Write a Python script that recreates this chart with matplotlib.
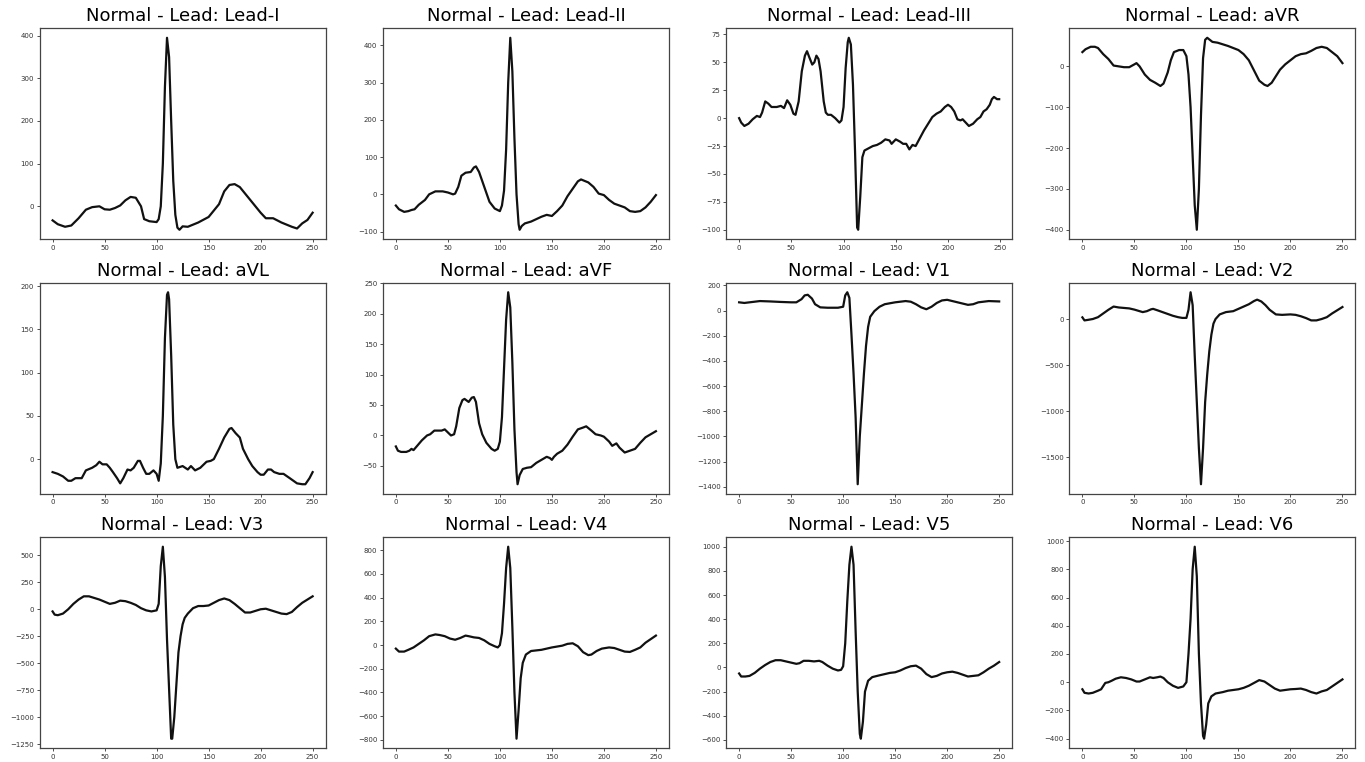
import matplotlib
matplotlib.use("Agg")
import matplotlib.pyplot as plt

# ECG samples, (sample index, amplitude)
LEAD_I = [(0, -33), (5, -42), (12, -48), (18, -45), (25, -28), (32, -8), (38, -2), (45, 0), (50, -7), (55, -8),
          (60, -4), (65, 2), (70, 14), (75, 22), (80, 20), (85, 0), (88, -30), (93, -35), (100, -37), (102, -30),
          (104, 0), (106, 100), (108, 280), (110, 395), (112, 350), (114, 200), (116, 60), (118, -20), (120, -50),
          (122, -55), (125, -47), (130, -48), (140, -38), (150, -25), (160, 5), (165, 35), (170, 50), (175, 52),
          (180, 45), (190, 15), (200, -15), (205, -28), (212, -28), (220, -38), (230, -48), (235, -52), (240, -40),
          (245, -32), (250, -15)]
LEAD_II = [(0, -30), (3, -40), (8, -47), (12, -45), (15, -42), (18, -40), (22, -28), (28, -15), (32, 0), (38, 8),
           (45, 8), (50, 5), (55, 0), (57, 2), (60, 20), (63, 50), (67, 58), (72, 60), (75, 72), (77, 75), (80, 60),
           (85, 20), (90, -20), (95, -38), (100, -45), (102, -30), (104, 10), (106, 120), (108, 300), (110, 420),
           (112, 330), (114, 150), (116, 0), (118, -80), (119, -95), (121, -85), (124, -78), (130, -73),
           (140, -60), (145, -55), (150, -58), (155, -45), (160, -30), (165, -5), (170, 15), (175, 35), (178, 40),
           (185, 32), (190, 20), (195, 2), (200, -2), (205, -15), (210, -25), (215, -30), (220, -35), (225, -45),
           (230, -47), (235, -45), (240, -35), (245, -20), (250, -2)]
LEAD_III = [(0, 0), (2, -4), (5, -7), (9, -5), (13, -1), (17, 2), (20, 1), (22, 5), (25, 15), (28, 13), (31, 10),
            (36, 10), (40, 11), (43, 9), (46, 16), (49, 12), (52, 4), (54, 3), (57, 15), (60, 42), (63, 56), (65, 60),
            (67, 55), (70, 48), (72, 50), (74, 56), (76, 53), (78, 42), (81, 15), (83, 5), (85, 3), (88, 3), (92, 0),
            (96, -4), (98, -2), (100, 10), (102, 45), (104, 68), (105, 72), (107, 66), (109, 30), (111, -30),
            (113, -98), (114, -100), (116, -70), (118, -35), (120, -29), (124, -27), (128, -25), (132, -24),
            (136, -22), (140, -19), (144, -20), (146, -23), (150, -19), (154, -21), (157, -23), (160, -23),
            (163, -28), (166, -24), (169, -25), (173, -18), (177, -11), (181, -5), (185, 1), (189, 4), (193, 6),
            (197, 10), (200, 12), (203, 10), (206, 6), (209, -1), (212, -2), (214, -1), (217, -4), (220, -7),
            (224, -5), (228, -1), (231, 1), (234, 6), (237, 8), (240, 12), (242, 17), (244, 19), (247, 17), (249, 17)]
AVR = [(0, 35), (3, 42), (8, 48), (12, 48), (15, 45), (20, 30), (25, 18), (30, 2), (35, 0), (40, -2), (45, -2),
       (50, 5), (52, 8), (55, 0), (60, -20), (65, -33), (70, -40), (75, -48), (78, -42), (82, -15), (85, 15),
       (88, 35), (93, 40), (97, 40), (100, 25), (102, -20), (104, -100), (106, -220), (108, -340), (110, -400),
       (112, -300), (114, -120), (116, 20), (118, 65), (120, 70), (125, 60), (130, 58), (140, 50), (145, 45),
       (150, 40), (155, 30), (160, 15), (165, -10), (170, -35), (175, -45), (178, -48), (182, -40), (185, -28),
       (190, -8), (195, 5), (200, 15), (205, 25), (210, 30), (215, 32), (220, 38), (225, 45), (230, 48), (235, 45),
       (240, 35), (245, 25), (250, 8)]
AVL = [(0, -15), (5, -17), (10, -20), (15, -25), (18, -25), (22, -22), (25, -22), (28, -22), (32, -13), (38, -10),
       (42, -7), (45, -3), (48, -6), (52, -6), (55, -10), (58, -15), (62, -22), (65, -28), (68, -22), (72, -12),
       (75, -13), (78, -10), (82, -2), (84, -2), (87, -10), (90, -17), (93, -17), (97, -13), (100, -17), (102, -25),
       (104, -5), (106, 50), (108, 140), (110, 190), (111, 193), (112, 185), (114, 120), (116, 40), (118, 0),
       (120, -10), (125, -8), (130, -12), (133, -8), (137, -13), (142, -10), (148, -3), (152, -2), (155, 0),
       (160, 12), (165, 25), (170, 35), (172, 36), (176, 30), (180, 25), (183, 12), (188, 0), (192, -8), (197, -15),
       (200, -18), (203, -18), (207, -12), (210, -12), (213, -15), (218, -17), (222, -17), (228, -22), (235, -28),
       (240, -29), (243, -29), (247, -22), (250, -15)]
AVF = [(0, -18), (2, -25), (5, -27), (10, -27), (13, -25), (15, -22), (17, -24), (20, -18), (25, -8), (30, 0),
       (33, 2), (37, 8), (40, 8), (44, 8), (47, 10), (50, 5), (53, 0), (56, 2), (58, 15), (61, 45), (64, 58),
       (66, 60), (70, 55), (73, 62), (75, 63), (77, 55), (80, 20), (83, 2), (87, -12), (92, -22), (95, -25),
       (98, -22), (100, -10), (102, 30), (104, 110), (106, 190), (108, 235), (110, 210), (112, 120), (114, 10),
       (116, -60), (117, -80), (119, -65), (122, -55), (126, -53), (130, -52), (135, -45), (140, -40), (145, -35),
       (148, -37), (150, -40), (152, -35), (155, -30), (160, -25), (165, -15), (170, -2), (175, 10), (180, 13),
       (183, 15), (188, 8), (192, 2), (197, 0), (200, -2), (205, -10), (208, -17), (212, -13), (215, -20),
       (220, -28), (225, -25), (230, -22), (235, -12), (240, -3), (245, 2), (250, 7)]
V1 = [(0, 65), (5, 60), (10, 65), (20, 75), (30, 72), (40, 68), (50, 65), (55, 65), (60, 90), (63, 120), (66, 125),
      (70, 95), (73, 50), (78, 25), (85, 22), (95, 22), (100, 30), (102, 120), (104, 145), (106, 100), (108, -190),
      (110, -500), (112, -850), (114, -1380), (116, -1000), (118, -750), (120, -500), (122, -280), (124, -130),
      (126, -50), (130, -5), (135, 30), (140, 50), (150, 65), (160, 75), (165, 70), (170, 50), (175, 25), (180, 10),
      (185, 30), (190, 60), (195, 80), (200, 85), (205, 75), (210, 65), (215, 55), (220, 45), (225, 50), (230, 65),
      (240, 75), (250, 72)]
V2 = [(0, 18), (2, -15), (5, -10), (10, 0), (15, 20), (20, 60), (25, 100), (30, 135), (35, 125), (40, 120),
      (45, 115), (50, 102), (55, 85), (58, 75), (62, 85), (66, 105), (68, 110), (72, 95), (77, 75), (82, 55),
      (87, 35), (92, 20), (96, 12), (100, 12), (102, 100), (104, 290), (106, 150), (108, -400), (110, -900),
      (112, -1400), (114, -1790), (116, -1400), (118, -900), (120, -600), (122, -350), (124, -170), (126, -50),
      (128, 0), (132, 50), (138, 75), (145, 85), (150, 110), (155, 135), (160, 160), (165, 195), (168, 210),
      (172, 190), (176, 150), (180, 100), (186, 50), (192, 45), (200, 50), (205, 45), (210, 30), (215, 10),
      (220, -15), (225, -15), (230, 0), (235, 20), (240, 60), (245, 95), (250, 130)]
V3 = [(0, -20), (2, -50), (5, -55), (10, -40), (15, 0), (20, 50), (25, 90), (30, 120), (35, 120), (40, 105),
      (45, 90), (50, 70), (55, 50), (60, 60), (65, 80), (70, 75), (75, 60), (80, 40), (85, 10), (90, -10), (95, -20),
      (100, -10), (102, 50), (104, 400), (106, 580), (108, 300), (110, -280), (112, -740), (114, -1200),
      (115, -1200), (117, -1000), (119, -700), (121, -400), (123, -250), (125, -140), (127, -80), (130, -40),
      (135, 10), (140, 30), (145, 30), (150, 35), (155, 60), (160, 85), (165, 100), (170, 85), (175, 50), (180, 10),
      (185, -30), (190, -30), (195, -15), (200, 0), (205, 5), (210, -10), (215, -25), (220, -40), (225, -45),
      (230, -25), (235, 20), (240, 60), (245, 90), (250, 120)]
V4 = [(0, -30), (3, -55), (8, -55), (12, -40), (17, -20), (22, 10), (27, 40), (32, 75), (38, 90), (42, 85), (47, 75),
      (52, 55), (57, 45), (62, 60), (67, 80), (70, 75), (75, 65), (80, 60), (85, 40), (90, 10), (95, -10), (98, -20),
      (100, 0), (102, 100), (104, 350), (106, 650), (108, 830), (110, 650), (112, 150), (114, -400), (116, -790),
      (118, -550), (120, -280), (122, -150), (125, -80), (130, -50), (140, -40), (150, -20), (160, -5), (165, 10),
      (170, 15), (175, -10), (180, -60), (185, -85), (188, -80), (193, -50), (198, -30), (205, -20), (210, -25),
      (215, -40), (220, -55), (225, -58), (230, -40), (235, -20), (240, 20), (245, 50), (250, 80)]
V5 = [(0, -50), (2, -75), (6, -75), (10, -70), (15, -45), (20, -10), (25, 20), (30, 45), (35, 60), (40, 60), (45, 50),
      (50, 40), (55, 30), (58, 35), (62, 55), (67, 55), (72, 50), (77, 55), (80, 45), (85, 15), (90, -10), (95, -25),
      (98, -20), (100, 10), (102, 200), (104, 550), (106, 850), (108, 1000), (110, 850), (112, 300), (114, -200),
      (116, -550), (117, -590), (119, -450), (121, -200), (124, -110), (128, -80), (135, -65), (140, -55),
      (145, -45), (150, -40), (155, -25), (160, -5), (165, 10), (170, 15), (175, -10), (180, -55), (185, -80),
      (190, -70), (195, -50), (200, -40), (205, -35), (210, -45), (215, -60), (220, -75), (225, -70), (230, -65),
      (235, -40), (240, -10), (245, 15), (250, 45)]
V6 = [(0, -50), (2, -75), (6, -80), (10, -75), (15, -60), (18, -50), (22, -5), (25, 0), (28, 10), (32, 25), (37, 35),
      (42, 30), (47, 20), (52, 5), (55, 5), (60, 20), (65, 35), (68, 30), (72, 35), (75, 40), (78, 30), (82, 0),
      (87, -25), (92, -40), (97, -30), (100, 0), (102, 200), (104, 450), (106, 800), (108, 960), (110, 750),
      (112, 200), (114, -150), (116, -380), (117, -400), (119, -300), (121, -150), (124, -100), (128, -80),
      (135, -70), (140, -60), (145, -55), (150, -50), (155, -40), (160, -25), (165, -5), (170, 15), (175, 5),
      (180, -20), (185, -45), (190, -60), (195, -55), (200, -50), (205, -48), (210, -45), (215, -55), (220, -70),
      (225, -80), (230, -65), (235, -55), (240, -30), (245, -5), (250, 20)]

LEAD_NAMES = ["Lead-I", "Lead-II", "Lead-III", "aVR", "aVL", "aVF", "V1", "V2", "V3", "V4", "V5", "V6"]
SIGNALS = [LEAD_I, LEAD_II, LEAD_III, AVR, AVL, AVF, V1, V2, V3, V4, V5, V6]

X_TICKS = [0, 50, 100, 150, 200, 250]
Y_TICKS = [
    [0, 100, 200, 300, 400],
    [-100, 0, 100, 200, 300, 400],
    [-100, -75, -50, -25, 0, 25, 50, 75],
    [-400, -300, -200, -100, 0],
    [0, 50, 100, 150, 200],
    [-50, 0, 50, 100, 150, 200, 250],
    [-1400, -1200, -1000, -800, -600, -400, -200, 0, 200],
    [-1500, -1000, -500, 0],
    [-1250, -1000, -750, -500, -250, 0, 250, 500],
    [-800, -600, -400, -200, 0, 200, 400, 600, 800],
    [-600, -400, -200, 0, 200, 400, 600, 800, 1000],
    [-400, -200, 0, 200, 400, 600, 800, 1000],
]

fig, axes = plt.subplots(3, 4, figsize=(13.65, 7.62), dpi=100)
plt.subplots_adjust(left=0.029, right=0.993, top=0.963, bottom=0.018, wspace=0.2, hspace=0.205)

for ax, name, sig, yt in zip(axes.flat, LEAD_NAMES, SIGNALS, Y_TICKS):
    xs = [p[0] for p in sig]
    ys = [p[1] for p in sig]
    ax.plot(xs, ys, color="#111111", linewidth=1.6)
    ax.set_title("Normal - Lead: " + name, fontsize=13, pad=5)
    ax.set_xticks(X_TICKS)
    ax.set_yticks(yt)
    ax.tick_params(labelsize=5, length=2, width=0.6, pad=2, colors="#333333")
    for s in ax.spines.values():
        s.set_linewidth(0.9)
        s.set_color("#444444")

fig.savefig("out.png", dpi=100)
